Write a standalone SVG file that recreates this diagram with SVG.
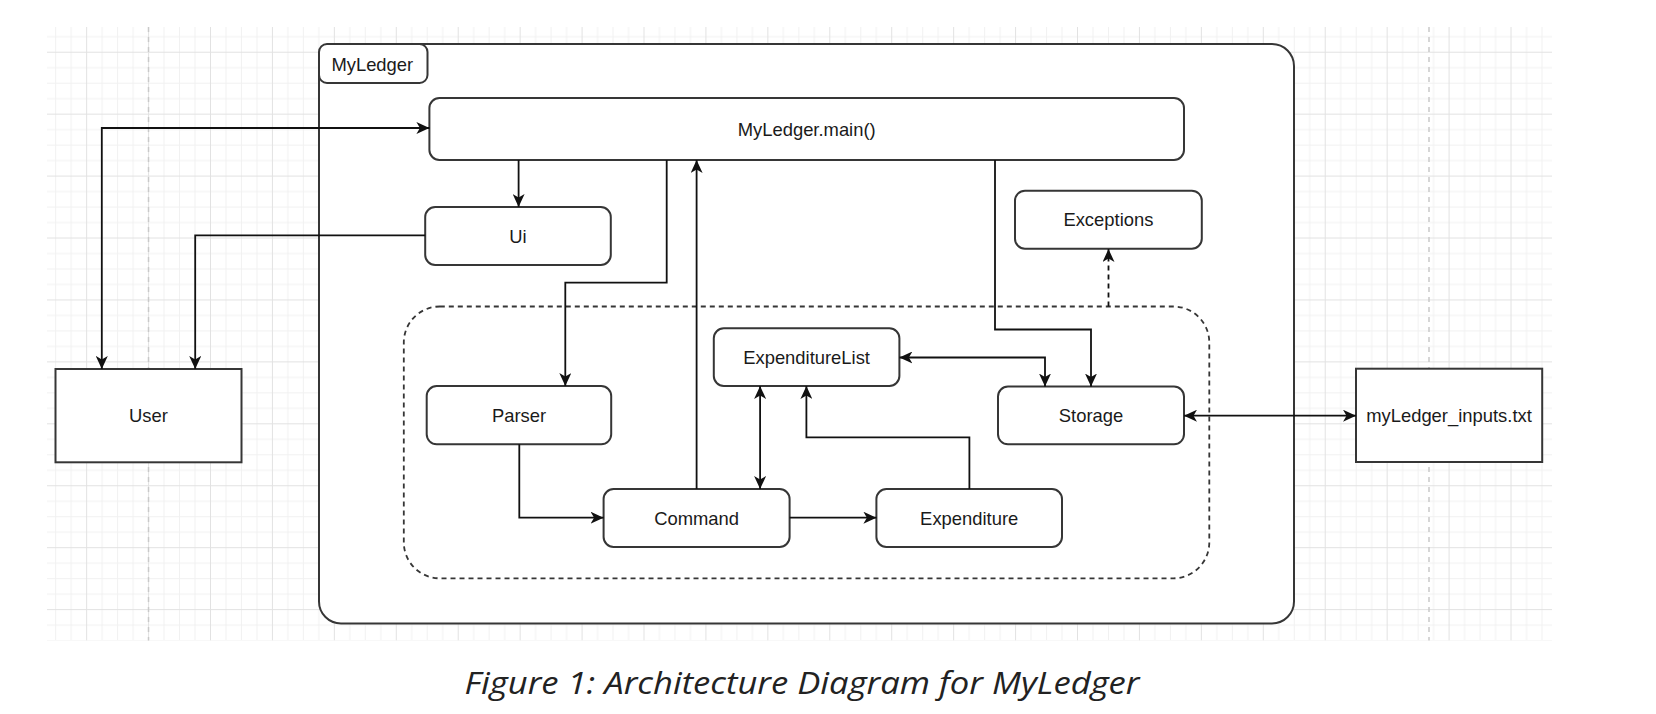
<svg xmlns="http://www.w3.org/2000/svg" width="1656" height="714" viewBox="0 0 1656 714">
  <defs>
    <pattern id="grid" patternUnits="userSpaceOnUse" x="24.2" y="-10.2" width="61.93" height="61.93">
      <path d="M15.98,0 V61.93 M31.46,0 V61.93 M46.95,0 V61.93 M0,15.98 H61.93 M0,31.46 H61.93 M0,46.95 H61.93" stroke="#f1f1f1" stroke-width="1" fill="none"/>
      <path d="M0.5,0 V61.93 M0,0.5 H61.93" stroke="#e2e2e2" stroke-width="1" fill="none"/>
    </pattern>
    <marker id="arr" viewBox="0 0 14 12" markerUnits="userSpaceOnUse" markerWidth="14" markerHeight="12" refX="13" refY="6" orient="auto-start-reverse">
      <path d="M0,0 L13,6 L0,12 L3.5,6 Z" fill="#111"/>
    </marker>
    <style>
      .box { fill: #ffffff; stroke: #363636; stroke-width: 2; }
      .lbl { font-family: "Liberation Sans", Arial, sans-serif; font-size: 18.4px; fill: #1a1a1a; text-anchor: middle; }
      .con { fill: none; stroke: #111; stroke-width: 1.8; }
      .dash { stroke-dasharray: 5 4; }
    </style>
  </defs>

  <rect x="0" y="0" width="1656" height="714" fill="#ffffff"/>

  <!-- background grid -->
  <g id="background-grid">
    <rect x="47" y="27" width="1505" height="613.5" fill="url(#grid)"/>
    <line x1="148.5" y1="27" x2="148.5" y2="640.5" stroke="#c9c9c9" stroke-width="1.5" stroke-dasharray="5 5"/>
    <line x1="1429" y1="27" x2="1429" y2="640.5" stroke="#c9c9c9" stroke-width="1.5" stroke-dasharray="5 5"/>
  </g>

  <!-- MyLedger container -->
  <g id="myledger-container">
    <rect class="box" x="319" y="44" width="975" height="579.5" rx="22"/>
    <rect class="box" x="319" y="44" width="108.5" height="39" rx="8"/>
    <text x="331.4" y="70.7" class="lbl" style="text-anchor:start">MyLedger</text>
  </g>

  <!-- dashed group -->
  <g id="core-group">
    <rect x="403.8" y="306.5" width="805.5" height="271.8" rx="36" fill="none" stroke="#363636" stroke-width="1.8" stroke-dasharray="5 4"/>
  </g>

  <g id="node-main">
    <rect class="box" x="429.4" y="98" width="754.6" height="62" rx="10"/>
    <text class="lbl" x="806.7" y="135.5">MyLedger.main()</text>
  </g>
  <g id="node-ui">
    <rect class="box" x="425.2" y="207" width="185.6" height="58" rx="10"/>
    <text class="lbl" x="518" y="242.5">Ui</text>
  </g>
  <g id="node-exceptions">
    <rect class="box" x="1015" y="190.7" width="186.8" height="58" rx="10"/>
    <text class="lbl" x="1108.4" y="226">Exceptions</text>
  </g>
  <g id="node-expenditurelist">
    <rect class="box" x="713.8" y="328.3" width="185.6" height="57.7" rx="10"/>
    <text class="lbl" x="806.6" y="363.7">ExpenditureList</text>
  </g>
  <g id="node-parser">
    <rect class="box" x="426.7" y="386" width="184.5" height="58.3" rx="10"/>
    <text class="lbl" x="519" y="421.5">Parser</text>
  </g>
  <g id="node-storage">
    <rect class="box" x="998" y="386.5" width="186" height="57.8" rx="10"/>
    <text class="lbl" x="1091" y="421.8">Storage</text>
  </g>
  <g id="node-command">
    <rect class="box" x="603.6" y="489" width="186" height="58" rx="10"/>
    <text class="lbl" x="696.6" y="524.5">Command</text>
  </g>
  <g id="node-expenditure">
    <rect class="box" x="876.4" y="489" width="185.6" height="58" rx="10"/>
    <text class="lbl" x="969.2" y="524.5">Expenditure</text>
  </g>
  <g id="node-user">
    <rect class="box" x="55.5" y="369" width="186" height="93.3"/>
    <text class="lbl" x="148.5" y="421.7">User</text>
  </g>
  <g id="node-inputs-file">
    <rect class="box" x="1356" y="368.7" width="186.2" height="93.3"/>
    <text class="lbl" x="1449" y="421.7">myLedger_inputs.txt</text>
  </g>

  <!-- connectors -->
  <g id="connectors">
    <path class="con" d="M101.8,369 V128 H429.4" marker-start="url(#arr)" marker-end="url(#arr)"/>
    <path class="con" d="M425.2,235.3 H195.2 V369" marker-end="url(#arr)"/>
    <path class="con" d="M518.6,160 V207" marker-end="url(#arr)"/>
    <path class="con" d="M666.7,160 V282.7 H565.3 V386" marker-end="url(#arr)"/>
    <path class="con" d="M696.6,489 V160" marker-end="url(#arr)"/>
    <path class="con" d="M995,160 V329.5 H1091 V386.5" marker-end="url(#arr)"/>
    <path class="con" d="M899.4,357.5 H1045 V386.5" marker-start="url(#arr)" marker-end="url(#arr)"/>
    <path class="con" d="M760.1,386 V489" marker-start="url(#arr)" marker-end="url(#arr)"/>
    <path class="con" d="M969.4,489 V437.3 H806.4 V386" marker-end="url(#arr)"/>
    <path class="con" d="M519.3,444.3 V517.7 H603.6" marker-end="url(#arr)"/>
    <path class="con" d="M789.6,517.7 H876.4" marker-end="url(#arr)"/>
    <path class="con" d="M1184,415.7 H1356" marker-start="url(#arr)" marker-end="url(#arr)"/>
    <path class="con dash" d="M1108.5,306.5 V249" marker-end="url(#arr)"/>
  </g>

  <text x="802" y="694" font-family="'Open Sans', 'Noto Sans', sans-serif" font-style="italic" font-size="31" fill="#222" text-anchor="middle" textLength="675" lengthAdjust="spacingAndGlyphs">Figure 1: Architecture Diagram for MyLedger</text>
</svg>
